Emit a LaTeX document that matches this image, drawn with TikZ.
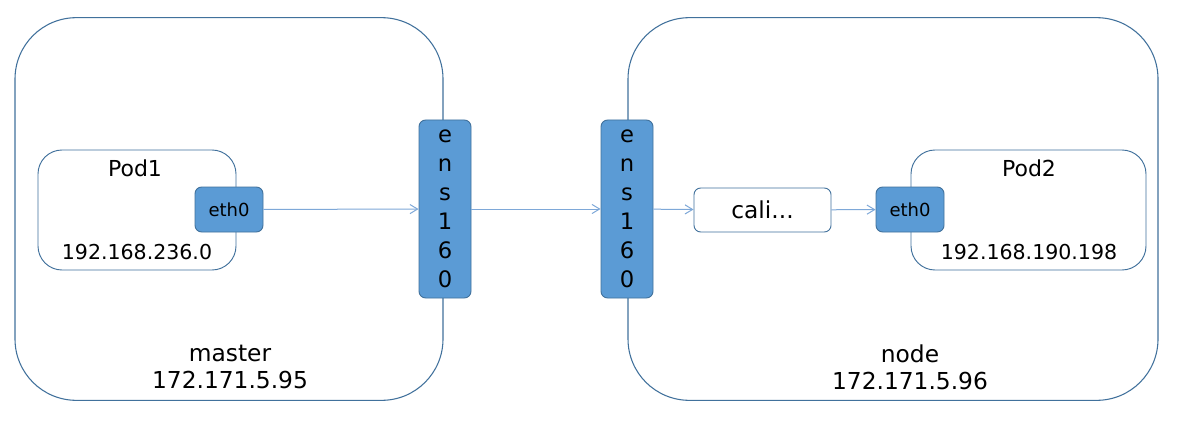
\documentclass[tikz,border=0pt]{standalone}
\usepackage{fontspec}
\setmainfont{DejaVu Sans}
\usetikzlibrary{arrows.meta,positioning}
\definecolor{Edge}{HTML}{41719C}
\definecolor{Iface}{HTML}{5B9BD5}
\definecolor{Wire}{HTML}{7EA8D8}
\tikzset{
  host/.style={draw=Edge,fill=white,line width=.8pt,rounded corners=46pt,minimum width=#1,minimum height=287pt,inner sep=0pt},
  pod/.style={draw=Edge,fill=white,line width=.7pt,rounded corners=18pt,minimum width=#1,minimum height=90pt,inner sep=0pt},
  iface/.style={draw=Edge,fill=Iface,line width=.7pt,rounded corners=5pt,minimum width=51pt,minimum height=33.75pt,inner sep=0pt,font=\fontsize{13.5}{16}\selectfont},
  nic/.style={draw=Edge,fill=Iface,line width=.7pt,rounded corners=5pt,minimum width=39pt,minimum height=133.5pt,inner sep=0pt,align=center,font=\fontsize{17}{21.7}\selectfont},
  veth/.style={draw=Edge,fill=white,line width=.7pt,rounded corners=5pt,minimum width=102.75pt,minimum height=33pt,inner sep=0pt,font=\fontsize{17.5}{20}\selectfont},
  hostlabel/.style={align=center,inner sep=0pt,font=\fontsize{17.5}{20.3}\selectfont},
  podname/.style={inner sep=0pt,font=\fontsize{16.5}{19}\selectfont},
  podip/.style={inner sep=0pt,font=\fontsize{15.4}{18}\selectfont},
  flow/.style={-{Straight Barb[length=2mm,width=2.4mm]},draw=Wire,line width=.75pt}
}
\begin{document}
\begin{tikzpicture}[x=.75pt,y=-.75pt]
  \useasboundingbox (0,0) rectangle (1177,431);
  % hosts
  \node[host=321pt] (master) at (229,209) {};
  \node[host=397.5pt] (worker) at (893,209) {};
  \node[hostlabel] (masterlabel) at (230,367) {master\\172.171.5.95};
  \node[hostlabel] (workerlabel) at (910,367) {node\\172.171.5.96};
  % pods
  \node[pod=148.5pt] (pod1) at (137,210) {};
  \node[podname] (pod1name) at (135,168) {Pod1};
  \node[podip] (pod1ip) at (137,252) {192.168.236.0};
  \node[pod=176.25pt] (pod2) at (1028.5,210) {};
  \node[podname] (pod2name) at (1029,168) {Pod2};
  \node[podip] (pod2ip) at (1029,252) {192.168.190.198};
  % interfaces
  \node[iface] (eth1) at (229,209.5) {eth0};
  \node[nic] (ensA) at (445,209) {e\\n\\s\\1\\6\\0};
  \node[nic] (ensB) at (627,209) {e\\n\\s\\1\\6\\0};
  \node[veth] (cali) at (762.5,210) {cali...};
  \node[iface] (eth2) at (910,209.5) {eth0};
  \draw[flow] (eth1) -- (ensA);
  \draw[flow] (ensA) -- (ensB);
  \draw[flow] (ensB) -- (cali);
  \draw[flow] (cali) -- (eth2);
\end{tikzpicture}
\end{document}
